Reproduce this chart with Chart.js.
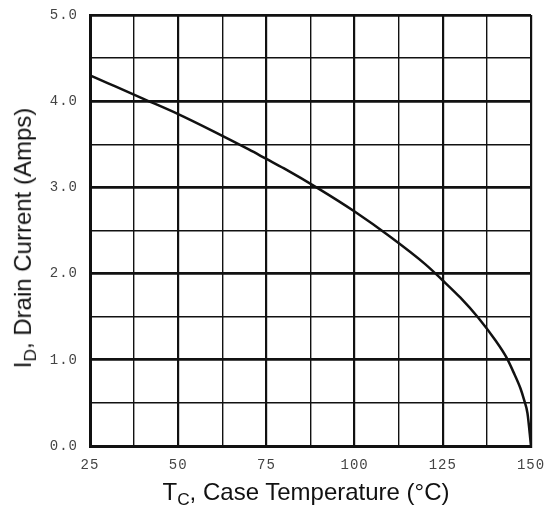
<!DOCTYPE html>
<html lang="en">
<head>
    <meta charset="UTF-8">
    <title>Drain Current vs Case Temperature</title>
    <style>
        html, body { margin: 0; padding: 0; background: #fff; }
        .wrap { position: relative; width: 549px; height: 516px; }
        canvas { position: absolute; left: 0; top: 0; }
        .title { position: absolute; font-family: "Liberation Sans", Arial, sans-serif; color: #111; white-space: nowrap; }
        .title sub { font-size: 72%; vertical-align: -0.3em; }
        #ytitle { font-size: 24px; left: 25px; top: 238px; transform: translate(-50%, -50%) rotate(-90deg); }
        #xtitle { font-size: 24px; left: 306px; top: 494px; transform: translate(-50%, -50%); }
    </style>
</head>
<body>
    <div class="wrap">
        <canvas id="chart" width="549" height="516"></canvas>
        <div class="title" id="ytitle">I<sub>D</sub>, Drain Current (Amps)</div>
        <div class="title" id="xtitle">T<sub>C</sub>, Case Temperature (°C)</div>
    </div>

    <script src="https://cdn.jsdelivr.net/npm/chart.js"></script>
    <script>
        // curve
        const caseTemp = [25, 30, 40, 50, 60, 70, 75, 80, 90, 100, 110, 120, 125, 130, 135, 140, 143, 145, 147, 148, 149, 150];
        const drainCurrent = [4.30, 4.21, 4.03, 3.85, 3.65, 3.44, 3.33, 3.22, 2.98, 2.72, 2.43, 2.11, 1.92, 1.72, 1.49, 1.22, 1.03, 0.86, 0.67, 0.54, 0.38, 0.0];
        const xTicks = [25, 50, 75, 100, 125, 150];
        const yTicks = ['0.0', '1.0', '2.0', '3.0', '4.0', '5.0'];

        const points = caseTemp.map((t, i) => ({ x: t, y: drainCurrent[i] }));

        // the printed tick numbers are widely spaced
        const spacedText = {
            id: 'spacedText',
            beforeDraw(chart) { chart.ctx.letterSpacing = '1px'; },
            afterDraw(chart) { chart.ctx.letterSpacing = '0px'; }
        };

        new Chart(document.getElementById('chart'), {
            type: 'line',
            data: {
                datasets: [{
                    data: points,
                    borderColor: '#111',
                    borderWidth: 2.5,
                    pointRadius: 0,
                    cubicInterpolationMode: 'monotone',
                    fill: false
                }]
            },
            options: {
                responsive: false,
                animation: false,
                layout: { padding: { left: 0, top: 15, right: 18, bottom: 0 } },
                plugins: { legend: { display: false }, tooltip: { enabled: false } },
                scales: {
                    x: {
                        type: 'linear',
                        min: 25,
                        max: 150,
                        afterFit(scale) {
                            scale.height = 70;
                            scale.paddingLeft = 0;
                            scale.paddingRight = 0;
                        },
                        afterBuildTicks(scale) {
                            const t = [];
                            for (let v = 25; v <= 150; v += 12.5) t.push({ value: v });
                            scale.ticks = t;
                        },
                        ticks: {
                            autoSkip: false,
                            maxRotation: 0,
                            padding: 11,
                            color: '#444',
                            font: { family: 'Liberation Mono', size: 14 },
                            callback: (v) => xTicks.includes(v) ? String(v) : ''
                        },
                        grid: {
                            color: '#111',
                            drawTicks: false,
                            lineWidth: (c) => (c.tick && c.tick.value % 25 === 0) ? 2.2 : 1.4
                        },
                        border: { display: true, color: '#111', width: 3 }
                    },
                    y: {
                        min: 0,
                        max: 5,
                        afterFit(scale) {
                            scale.width = 90;
                            scale.paddingTop = 0;
                            scale.paddingBottom = 0;
                        },
                        afterBuildTicks(scale) {
                            const t = [];
                            for (let v = 0; v <= 5; v += 0.5) t.push({ value: v });
                            scale.ticks = t;
                        },
                        ticks: {
                            autoSkip: false,
                            padding: 12,
                            color: '#444',
                            font: { family: 'Liberation Mono', size: 14 },
                            callback: (v) => Number.isInteger(v) ? yTicks[v] : ''
                        },
                        grid: {
                            color: '#111',
                            drawTicks: false,
                            lineWidth: (c) => (c.tick && Number.isInteger(c.tick.value)) ? 2.8 : 1.6
                        },
                        border: { display: true, color: '#111', width: 3 }
                    }
                }
            },
            plugins: [spacedText]
        });
    </script>
</body>
</html>
